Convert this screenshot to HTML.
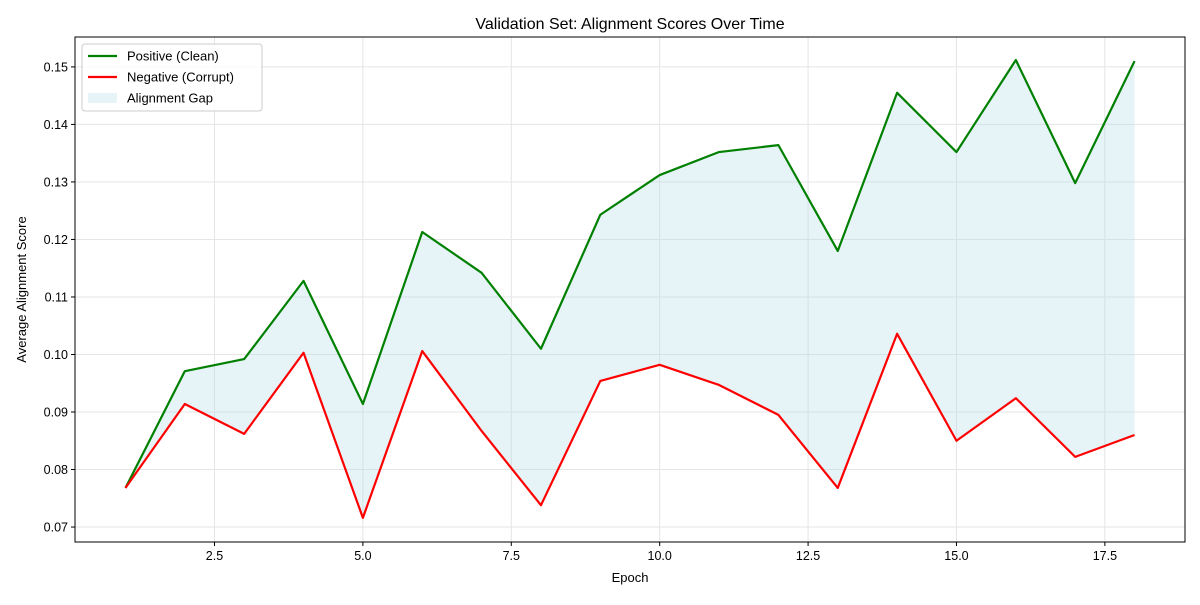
<!DOCTYPE html>
<html><head><meta charset="utf-8"><style>
body{margin:0;background:#fff;font-family:"Liberation Sans","DejaVu Sans",sans-serif}
</style></head><body>
<svg id="chart" width="1200" height="600" xmlns="http://www.w3.org/2000/svg"></svg>
<script>
const epochs=[1,2,3,4,5,6,7,8,9,10,11,12,13,14,15,16,17,18];
const positive=[0.0768,0.0971,0.0992,0.1128,0.0914,0.1213,0.1142,0.1010,0.1243,0.1312,0.1352,0.1364,0.1180,0.1455,0.1352,0.1512,0.1298,0.1510];
const negative=[0.0768,0.0914,0.0862,0.1003,0.0716,0.1006,0.0867,0.0738,0.0954,0.0982,0.0947,0.0895,0.0768,0.1036,0.0850,0.0924,0.0822,0.0860];
const xTicks=[2.5,5.0,7.5,10.0,12.5,15.0,17.5];
const yTicks=[0.07,0.08,0.09,0.10,0.11,0.12,0.13,0.14,0.15];

const L=75,R=1185,T=37,B=542;
const xMin=0.15,xMax=18.85,yMin=0.0674,yMax=0.1552;
const sx=v=>L+(v-xMin)/(xMax-xMin)*(R-L);
const sy=v=>B-(v-yMin)/(yMax-yMin)*(B-T);
const svg=document.getElementById('chart');
const NS='http://www.w3.org/2000/svg';
function mk(tag,attrs,parent){const e=document.createElementNS(NS,tag);for(const k in attrs)e.setAttribute(k,attrs[k]);(parent||svg).appendChild(e);return e;}

// grid
xTicks.forEach(t=>{const l=mk('line',{x1:sx(t),x2:sx(t),y1:T,y2:B,stroke:'#e5e5e5','stroke-width':1});

});
yTicks.forEach(t=>{const l=mk('line',{x1:L,x2:R,y1:sy(t),y2:sy(t),stroke:'#e5e5e5','stroke-width':1});

});

// fill
let d='M'+epochs.map((e,i)=>sx(e)+','+sy(positive[i])).join('L');
for(let i=epochs.length-1;i>=0;i--)d+='L'+sx(epochs[i])+','+sy(negative[i]);
const fill=mk('path',{d:d+'Z',fill:'#add8e6','fill-opacity':0.3});



const pl=mk('polyline',{points:epochs.map((e,i)=>sx(e)+','+sy(positive[i])).join(' '),fill:'none',stroke:'#008000','stroke-width':2.2,'stroke-linejoin':'round'});


const nl=mk('polyline',{points:epochs.map((e,i)=>sx(e)+','+sy(negative[i])).join(' '),fill:'none',stroke:'#ff0000','stroke-width':2.2,'stroke-linejoin':'round'});



// axes frame
const fr=mk('rect',{x:L,y:T,width:R-L,height:B-T,fill:'none',stroke:'#000','stroke-width':1});



xTicks.forEach(t=>{mk('line',{x1:sx(t),x2:sx(t),y1:B,y2:B+4,stroke:'#000'});
const tx=mk('text',{x:sx(t),y:B+18,'text-anchor':'middle','font-size':12.5,fill:'#000'});tx.textContent=t.toFixed(1);

});
yTicks.forEach(t=>{mk('line',{x1:L-4,x2:L,y1:sy(t),y2:sy(t),stroke:'#000'});
const tx=mk('text',{x:L-7,y:sy(t)+4.5,'text-anchor':'end','font-size':12.5,fill:'#000'});tx.textContent=t.toFixed(2);

});

const title=mk('text',{x:(L+R)/2,y:29,'text-anchor':'middle','font-size':16,fill:'#000'});title.textContent='Validation Set: Alignment Scores Over Time';


const xl=mk('text',{x:(L+R)/2,y:582,'text-anchor':'middle','font-size':13,fill:'#000'});xl.textContent='Epoch';


const yl=mk('text',{x:0,y:0,'text-anchor':'middle','font-size':13,fill:'#000',transform:'translate(26,'+((T+B)/2)+') rotate(-90)'});yl.textContent='Average Alignment Score';



// legend
const lg=mk('g',{});


mk('rect',{x:82,y:44,width:180,height:67,rx:3,fill:'#fff','fill-opacity':0.8,stroke:'#ccc'},lg);
const items=[['Positive (Clean)','#008000','line'],['Negative (Corrupt)','#ff0000','line'],['Alignment Gap','#add8e6','patch']];
items.forEach((it,i)=>{const y=56+i*21;
if(it[2]==='line')mk('line',{x1:88,x2:117,y1:y,y2:y,stroke:it[1],'stroke-width':2.2},lg);
else mk('rect',{x:88,y:y-5,width:29,height:10,fill:it[1],'fill-opacity':0.3},lg);
const t=mk('text',{x:127,y:y+4.5,'font-size':13,fill:'#000'},lg);t.textContent=it[0];

});
</script>
</body></html>
